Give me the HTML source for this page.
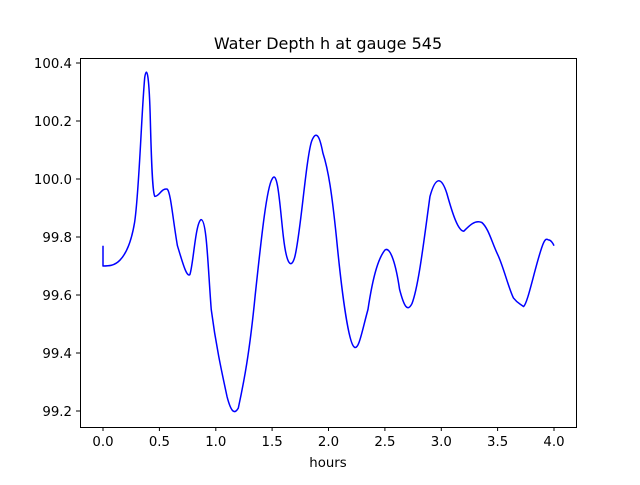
<!DOCTYPE html>
<html><head><meta charset="utf-8"><style>
body{margin:0;background:#fff}
svg text{font-family:"DejaVu Sans","Liberation Sans",sans-serif;font-size:13.3px;fill:#000}
</style></head><body>
<svg width="640" height="480" xmlns="http://www.w3.org/2000/svg">
<rect width="640" height="480" fill="#fff"/>
<g transform="translate(103,63) scale(112.75,-290) translate(0,-100.4)">
<path vector-effect="non-scaling-stroke" fill="none" stroke="#0000ff" stroke-width="1.5" stroke-linejoin="round"
d="M0,99.77 L0,99.70 C0.05,99.70 0.1,99.70 0.15,99.72 C0.2,99.74 0.25,99.78 0.28,99.85 C0.32,99.95 0.34,100.22 0.37,100.35 C0.39,100.40 0.41,100.35 0.42,100.2 C0.43,100.05 0.44,99.95 0.46,99.94 C0.5,99.94 0.52,99.97 0.57,99.965 C0.6,99.955 0.62,99.86 0.66,99.77 C0.7,99.72 0.74,99.66 0.77,99.67 C0.8,99.7 0.82,99.85 0.87,99.86 C0.92,99.86 0.93,99.7 0.96,99.55 C1.0,99.43 1.05,99.34 1.1,99.25 C1.14,99.19 1.17,99.19 1.2,99.21 C1.25,99.3 1.3,99.4 1.35,99.6 C1.4,99.78 1.45,99.97 1.5,100.0 C1.55,100.04 1.57,99.9 1.6,99.8 C1.63,99.7 1.67,99.69 1.7,99.73 C1.75,99.8 1.8,100.07 1.85,100.13 C1.9,100.18 1.93,100.13 1.95,100.09 C2.0,100.03 2.03,99.95 2.07,99.8 C2.12,99.6 2.18,99.43 2.23,99.42 C2.27,99.41 2.3,99.48 2.35,99.55 C2.4,99.68 2.45,99.73 2.5,99.755 C2.55,99.77 2.6,99.7 2.63,99.62 C2.67,99.56 2.7,99.54 2.74,99.57 C2.8,99.63 2.85,99.8 2.9,99.94 C2.95,100.01 3.0,100.01 3.05,99.95 C3.1,99.88 3.15,99.82 3.2,99.82 C3.25,99.84 3.3,99.86 3.36,99.85 C3.42,99.83 3.45,99.78 3.5,99.74 C3.55,99.7 3.6,99.62 3.64,99.59 C3.68,99.57 3.7,99.57 3.73,99.56 C3.76,99.57 3.8,99.64 3.85,99.71 C3.9,99.78 3.92,99.8 3.95,99.79 C3.97,99.79 3.99,99.78 4.0,99.77"/>
</g>
<rect x="80.5" y="58.5" width="496" height="369" fill="none" stroke="#000" stroke-width="1"/>
<g stroke="#000">
<line x1="103" y1="427" x2="103" y2="431"/><line x1="159.4" y1="427" x2="159.4" y2="431"/>
<line x1="215.8" y1="427" x2="215.8" y2="431"/><line x1="272.1" y1="427" x2="272.1" y2="431"/>
<line x1="328.5" y1="427" x2="328.5" y2="431"/><line x1="384.9" y1="427" x2="384.9" y2="431"/>
<line x1="441.3" y1="427" x2="441.3" y2="431"/><line x1="497.6" y1="427" x2="497.6" y2="431"/>
<line x1="554" y1="427" x2="554" y2="431"/>
<line x1="76" y1="63" x2="80" y2="63"/><line x1="76" y1="121" x2="80" y2="121"/>
<line x1="76" y1="179" x2="80" y2="179"/><line x1="76" y1="237" x2="80" y2="237"/>
<line x1="76" y1="295" x2="80" y2="295"/><line x1="76" y1="353" x2="80" y2="353"/>
<line x1="76" y1="411" x2="80" y2="411"/>
</g>
<g text-anchor="middle">
<text x="103" y="446">0.0</text><text x="159.4" y="446">0.5</text><text x="215.8" y="446">1.0</text>
<text x="272.1" y="446">1.5</text><text x="328.5" y="446">2.0</text><text x="384.9" y="446">2.5</text>
<text x="441.3" y="446">3.0</text><text x="497.6" y="446">3.5</text><text x="554" y="446">4.0</text>
<text x="328" y="467">hours</text>
<text x="328" y="49" style="font-size:16px">Water Depth h at gauge 545</text>
</g>
<g text-anchor="end">
<text x="72" y="68">100.4</text><text x="72" y="126">100.2</text><text x="72" y="184">100.0</text>
<text x="72" y="242">99.8</text><text x="72" y="300">99.6</text><text x="72" y="358">99.4</text>
<text x="72" y="416">99.2</text>
</g>
</svg>
</body></html>
